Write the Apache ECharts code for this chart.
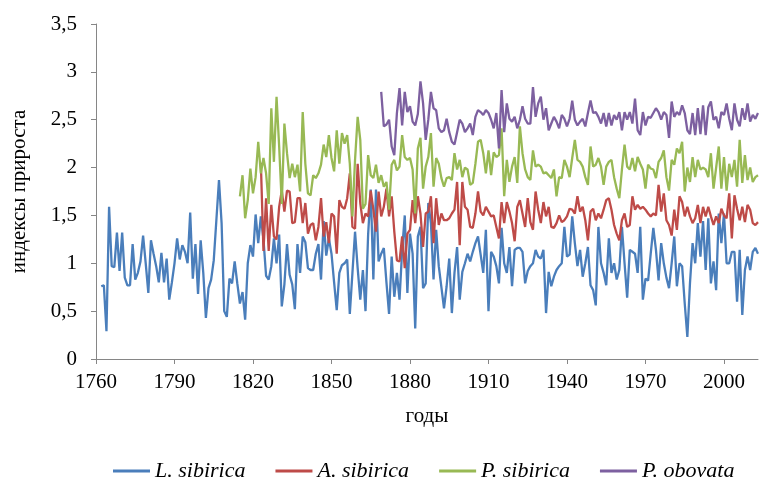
<!DOCTYPE html>
<html>
<head>
<meta charset="utf-8">
<script src="https://cdn.jsdelivr.net/npm/echarts@6/dist/echarts.min.js"></script>
<style>
html,body{margin:0;padding:0;background:#fff;}
#chart{width:759px;height:478px;}
</style>
</head>
<body>
<div id="chart"></div>
<script>
// Tick labels
const xTicks = [1760, 1790, 1820, 1850, 1880, 1910, 1940, 1970, 2000];
const seriesNames = ['L. sibirica', 'A. sibirica', 'P. sibirica', 'P. obovata'];

// L. sibirica: 1762–2013
const lSibiricaStart = 1762;
const lSibirica = [
  0.76,0.77,0.29,1.59,0.97,0.96,1.32,0.92,1.32,0.85,0.77,0.77,1.2,0.83,0.9,1.02,1.29,1.0,0.69,1.24,
  1.1,0.97,0.8,1.11,0.8,1.05,0.62,0.8,1.0,1.26,1.04,1.19,1.12,1.0,1.53,0.84,1.2,0.68,
  1.24,0.9,0.43,0.74,0.83,1.03,1.45,1.87,1.42,0.5,0.44,0.84,0.79,1.02,0.79,0.58,0.7,0.41,1.0,1.19,1.07,1.51,1.21,1.49,
  1.25,0.87,0.83,0.97,1.26,1.0,1.3,0.55,0.78,1.2,0.88,0.78,0.52,1.2,
  0.9,1.28,1.22,0.95,0.93,0.93,1.1,1.2,0.83,1.44,1.08,1.26,1.1,0.8,0.51,0.9,0.98,1.0,1.04,0.47,
  0.9,1.33,0.95,0.62,0.93,0.5,1.3,1.77,0.83,1.77,1.02,1.1,1.16,0.8,0.47,1.07,0.65,0.9,0.62,1.14,1.5,0.69,
  1.31,1.1,0.32,1.28,1.38,0.74,0.79,1.63,1.42,0.83,1.35,0.97,0.75,0.53,0.76,1.05,0.48,0.9,1.17,0.62,
  0.91,1.0,1.1,1.02,1.12,1.21,1.28,1.09,0.9,1.35,0.5,1.12,1.07,0.97,0.79,1.37,1.0,0.9,1.17,0.76,1.14,1.16,
  1.16,1.12,0.79,0.92,0.97,1.0,1.14,1.07,1.05,1.14,0.48,0.91,0.76,0.86,0.93,0.97,1.0,1.38,1.07,1.09,
  1.49,1.21,0.97,1.14,0.86,1.0,1.17,0.77,0.72,0.56,1.38,1.0,0.9,0.77,1.26,0.9,1.0,0.83,0.93,1.38,1.0,0.64,
  1.14,1.12,1.1,0.9,1.38,0.62,0.84,0.82,1.1,1.37,1.14,0.82,1.21,1.0,0.85,0.74,1.0,1.28,0.76,1.0,
  0.97,0.58,0.23,0.79,1.21,1.0,1.42,1.07,1.44,0.93,1.47,0.79,1.02,0.72,1.52,1.21,1.52,1.0,1.0,1.12,
  1.12,0.6,1.14,0.46,0.93,1.07,0.93,1.12,1.16,1.1
];

// A. sibirica: 1823–2013
const aSibiricaStart = 1823;
const aSibirica = [
  2.05,1.13,1.68,1.13,1.61,1.28,1.25,1.59,1.76,1.54,1.76,1.75,1.42,1.43,1.68,
  1.68,1.42,1.63,1.31,1.4,1.42,1.24,1.38,1.68,1.28,1.43,1.21,1.52,1.49,1.1,1.66,1.59,1.57,1.68,1.94,
  1.38,1.36,2.04,1.63,1.42,1.52,1.49,1.76,1.56,1.33,1.75,1.49,1.59,1.78,1.49,1.7,1.33,1.03,1.02,1.28,0.95,1.31,
  1.35,1.66,1.42,1.7,1.52,1.17,1.52,1.54,1.7,1.21,1.68,1.4,1.52,1.45,1.45,1.47,1.52,1.56,1.85,1.19,
  1.85,1.59,1.56,1.38,1.37,1.52,1.75,1.54,1.5,1.59,1.54,1.49,1.5,1.38,1.26,1.64,1.42,1.64,1.54,1.42,1.23,1.59,
  1.66,1.52,1.38,1.68,1.43,1.35,1.75,1.56,1.42,1.64,1.49,1.59,1.38,1.37,1.42,1.5,1.43,1.45,1.49,1.57,
  1.56,1.52,1.7,1.54,1.59,1.45,1.24,1.54,1.57,1.45,1.52,1.47,1.56,1.66,1.68,1.56,1.4,1.31,1.24,1.45,1.52,1.38,
  1.4,1.7,1.56,1.61,1.57,1.59,1.56,1.52,1.49,1.52,1.5,1.82,1.54,1.73,1.45,1.4,1.29,1.56,1.35,1.7,
  1.64,1.49,1.59,1.49,1.42,1.47,1.61,1.42,1.59,1.49,1.59,1.49,1.4,1.49,1.42,1.57,1.5,1.47,1.73,1.26,
  1.71,1.57,1.45,1.59,1.43,1.61,1.56,1.42,1.4,1.43
];

// P. sibirica: 1815–2013
const pSibiricaStart = 1815;
const pSibirica = [
  1.7,1.92,1.47,1.66,1.99,1.73,1.9,2.27,1.94,2.1,1.94,1.62,2.62,2.06,2.74,2.22,1.62,2.46,2.15,1.89,2.04,1.9,2.03,
  1.75,2.58,2.04,1.73,1.71,1.92,1.89,1.94,2.03,2.24,2.11,2.34,2.1,1.96,2.39,2.04,2.36,2.25,2.34,2.04,
  1.49,2.08,2.53,2.29,1.57,1.62,2.13,1.92,1.89,2.03,1.84,1.92,1.8,1.85,1.56,2.03,2.08,1.97,2.01,2.34,2.11,2.08,
  2.1,1.98,1.52,2.2,2.31,1.78,2.01,2.11,2.36,1.8,2.1,2.04,1.89,1.8,1.89,1.9,1.87,2.15,1.98,2.08,
  1.9,2.0,1.98,1.82,1.84,2.04,2.27,2.29,2.15,1.94,2.18,1.92,2.16,2.11,2.13,2.41,1.7,2.08,1.85,2.01,2.11,1.84,
  2.43,2.15,1.98,1.9,1.87,2.18,2.01,2.03,2.01,1.94,1.95,1.92,1.89,1.98,1.7,1.9,1.89,2.08,2.01,1.9,
  2.1,2.29,2.08,2.06,2.01,1.9,1.82,2.22,2.01,2.03,2.1,2.01,1.82,2.01,2.06,2.08,1.9,1.78,1.68,1.98,2.24,2.01,
  1.98,2.1,1.96,2.11,2.04,1.98,1.78,2.03,1.99,1.98,1.89,2.06,2.1,2.18,1.9,1.76,2.08,2.03,2.2,2.15,
  2.27,1.75,2.0,1.85,2.11,1.9,2.08,1.98,2.0,1.98,1.9,2.15,1.78,2.0,2.22,1.78,2.11,1.76,2.04,1.9,
  2.08,1.8,2.29,1.84,2.13,1.87,2.0,1.85,1.9,1.92
];

// P. obovata: 1869–2013
const pObovataStart = 1869;
const pObovata = [
  2.79,2.43,2.45,2.5,2.22,2.13,2.57,2.83,2.44,2.79,2.58,
  2.64,2.48,2.44,2.56,2.9,2.67,2.29,2.5,2.79,2.62,2.6,2.41,2.37,2.39,2.51,2.37,2.27,2.24,2.37,2.5,
  2.46,2.37,2.41,2.46,2.34,2.53,2.6,2.58,2.55,2.6,2.57,2.5,2.41,2.57,2.2,2.81,2.37,2.67,2.51,2.48,
  2.53,2.41,2.5,2.64,2.51,2.46,
  2.46,2.84,2.53,2.67,2.74,2.5,2.62,2.39,2.46,2.53,2.48,2.41,2.55,2.51,2.43,2.51,2.7,2.5,2.44,2.48,
  2.51,2.43,2.57,2.7,2.57,2.58,2.53,2.46,2.57,2.43,2.57,2.44,2.55,2.5,2.58,2.39,2.58,2.5,
  2.58,2.46,2.72,2.39,2.34,2.58,2.44,2.53,2.52,2.57,2.62,2.58,2.5,2.58,2.55,2.31,2.69,2.53,2.58,2.55,
  2.65,2.57,2.39,2.35,2.57,2.34,2.62,2.35,2.65,2.34,2.63,2.69,2.5,2.53,2.41,2.58,2.55,2.67,2.51,2.39,
  2.67,2.5,2.43,2.62,2.5,2.67,2.48,2.55,2.51,2.57
];

function pairs(start, vals) { return vals.map((v, i) => [start + i, v]); }

const colors = ['#4A7EBB', '#BE4B48', '#98B954', '#7D60A0'];
const FONT = 'Liberation Serif, Times New Roman, serif';
const axisGray = '#868686';

const chart = echarts.init(document.getElementById('chart'), null, {renderer: 'canvas'});
const mk = (name, start, vals, c) => ({
  name, type: 'line', data: pairs(start, vals), showSymbol: false, symbol: 'none',
  lineStyle: {color: c, width: 2.3}, itemStyle: {color: c}, animation: false
});

chart.setOption({
  animation: false,
  grid: {left: 96, right: 1, top: 24, bottom: 119, containLabel: false},
  legend: {
    data: seriesNames, left: 108, top: 455, icon: 'rect', itemWidth: 37, itemHeight: 3, itemGap: 30,
    textStyle: {fontFamily: FONT, fontStyle: 'italic', fontSize: 22, color: '#000'}
  },
  xAxis: {
    type: 'value', min: 1760, max: 2013,
    axisLine: {show: true, lineStyle: {color: axisGray, width: 1}},
    axisTick: {show: true, inside: false, length: 5, lineStyle: {color: axisGray}, customValues: xTicks},
    axisLabel: {customValues: xTicks, margin: 13, fontFamily: FONT, fontSize: 21, color: '#000',
      formatter: v => String(v)},
    splitLine: {show: false},
    name: 'годы', nameLocation: 'middle', nameGap: 47,
    nameTextStyle: {fontFamily: FONT, fontSize: 21, color: '#000'}
  },
  yAxis: {
    type: 'value', min: 0, max: 3.5, interval: 0.5,
    axisLine: {show: true, lineStyle: {color: axisGray, width: 1}},
    axisTick: {show: true, inside: false, length: 5, lineStyle: {color: axisGray}},
    axisLabel: {margin: 19, fontFamily: FONT, fontSize: 21, color: '#000',
      formatter: v => String(v).replace('.', ',')},
    splitLine: {show: false},
    name: 'индексы прироста', nameLocation: 'middle', nameGap: 66, nameRotate: 90,
    nameTextStyle: {fontFamily: FONT, fontSize: 21, color: '#000'}
  },
  series: [
    mk(seriesNames[0], lSibiricaStart, lSibirica, colors[0]),
    mk(seriesNames[1], aSibiricaStart, aSibirica, colors[1]),
    mk(seriesNames[2], pSibiricaStart, pSibirica, colors[2]),
    mk(seriesNames[3], pObovataStart, pObovata, colors[3])
  ]
});
</script>
</body>
</html>
